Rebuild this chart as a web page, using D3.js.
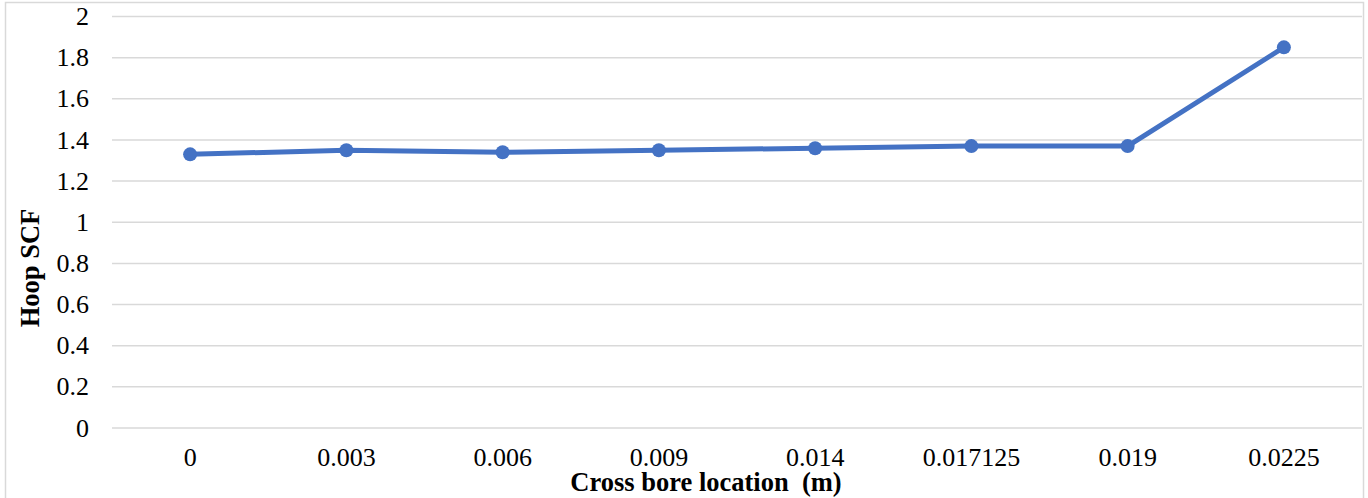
<!DOCTYPE html>
<html>
<head>
<meta charset="utf-8">
<script src="https://cdn.jsdelivr.net/npm/d3@7"></script>
<style>
	body { margin: 0; background: #fff; }
	svg { display: block; font-family: "Liberation Serif", "Times New Roman", serif; }
	.grid line { stroke: #d9d9d9; stroke-width: 1.5; }
	.tick-label { font-size: 26px; fill: #000; }
	.axis-title { font-size: 26.5px; font-weight: bold; fill: #000; }
</style>
</head>
<body>
<script>
	// chart data
	var locations = ['0', '0.003', '0.006', '0.009', '0.014', '0.017125', '0.019', '0.0225'];
	var hoopSCF = [1.33, 1.35, 1.34, 1.35, 1.36, 1.37, 1.37, 1.85];
	var yTicks = [0, 0.2, 0.4, 0.6, 0.8, 1, 1.2, 1.4, 1.6, 1.8, 2];

	var width = 1368,
		height = 498,
		plotLeft = 112,
		plotRight = 1362,
		plotTop = 16.5,
		plotBottom = 428,
		lineColor = '#4472c4';

	var svg = d3.select('body').append('svg')
		.attr('width', width)
		.attr('height', height);

	// chart border
	svg.append('rect')
		.attr('x', 5.5).attr('y', 2.5)
		.attr('width', 1358).attr('height', 500)
		.attr('fill', 'none')
		.attr('stroke', '#d9d9d9')
		.attr('stroke-width', 1.5);

	var x = d3.scaleBand()
		.domain(locations)
		.range([plotLeft, plotRight]);

	var y = d3.scaleLinear()
		.domain([0, 2])
		.range([plotBottom, plotTop]);

	// horizontal gridlines
	svg.append('g').attr('class', 'grid')
		.selectAll('line').data(yTicks).enter().append('line')
		.attr('x1', plotLeft).attr('x2', plotRight)
		.attr('y1', function (d) { return y(d); })
		.attr('y2', function (d) { return y(d); });

	// y tick labels
	svg.append('g').selectAll('text').data(yTicks).enter().append('text')
		.attr('class', 'tick-label')
		.attr('x', 89)
		.attr('y', function (d) { return y(d); })
		.attr('dy', '0.33em')
		.attr('text-anchor', 'end')
		.text(function (d) { return d3.format('~g')(d); });

	// x tick labels
	svg.append('g').selectAll('text').data(locations).enter().append('text')
		.attr('class', 'tick-label')
		.attr('x', function (d) { return x(d) + x.bandwidth() / 2; })
		.attr('y', 466)
		.attr('text-anchor', 'middle')
		.text(function (d) { return d; });

	// line and markers
	var pts = locations.map(function (d, i) { return [d, hoopSCF[i]]; });
	var line = d3.line()
		.x(function (d) { return x(d[0]) + x.bandwidth() / 2; })
		.y(function (d) { return y(d[1]); });

	svg.append('path')
		.datum(pts)
		.attr('d', line)
		.attr('fill', 'none')
		.attr('stroke', lineColor)
		.attr('stroke-width', 5)
		.attr('stroke-linejoin', 'round');

	svg.append('g').selectAll('circle').data(pts).enter().append('circle')
		.attr('cx', function (d) { return x(d[0]) + x.bandwidth() / 2; })
		.attr('cy', function (d) { return y(d[1]); })
		.attr('r', 7)
		.attr('fill', lineColor);

	// axis titles
	svg.append('text')
		.attr('class', 'axis-title')
		.attr('x', 706)
		.attr('y', 491)
		.attr('text-anchor', 'middle')
		.attr('xml:space', 'preserve')
		.style('white-space', 'pre')
		.text('Cross bore location  (m)');

	svg.append('text')
		.attr('class', 'axis-title')
		.attr('transform', 'translate(39,268) rotate(-90)')
		.attr('text-anchor', 'middle')
		.text('Hoop SCF');
</script>
</body>
</html>
